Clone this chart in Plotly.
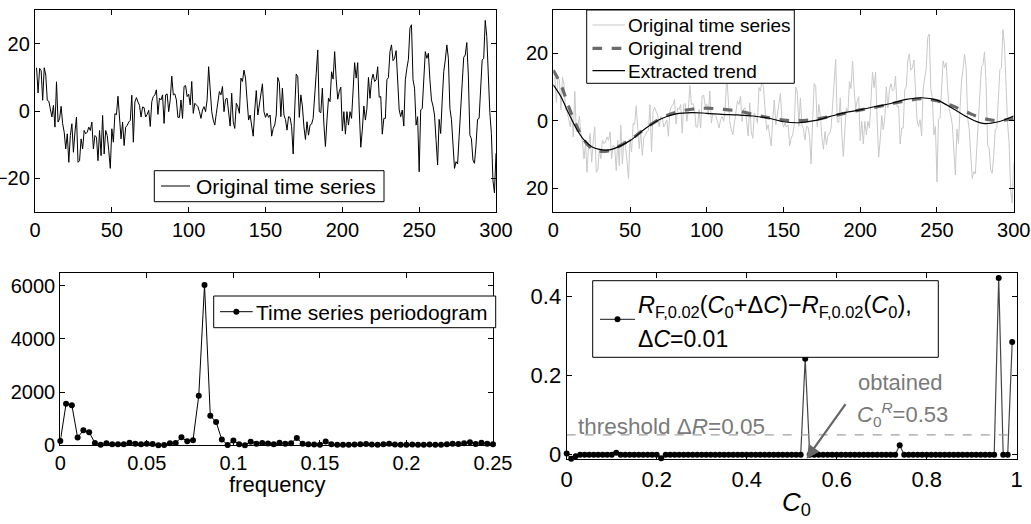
import plotly.graph_objects as go

W, H = 1031, 524

# ---------------- data ----------------
series = [
    12.9, 5.4, 12.7, 12.0, 3.2, 12.9, 10.7, 3.2, 2.9, 1.0,
    -1.8, 1.7, -4.8, 8.7, -3.3, -2.3, 1.4, -3.8, -6.3, -11.3,
    -6.8, -15.3, -7.3, -3.8, -12.3, -6.3, -1.8, -15.3, -14.8, -8.3,
    -11.3, -5.8, -6.8, -6.3, -4.8, -5.8, -3.3, -11.3, -7.3, -7.8,
    -14.8, -5.8, -13.3, -1.3, -12.8, -5.8, -7.3, -11.8, -17.1, -5.3,
    -9.3, -0.8, -1.1, 4.4, -1.8, -8.3, -3.3, -10.3, -4.8, -4.3,
    -3.3, -2.8, 4.7, -9.3, 2.7, 4.0, 2.7, 1.7, -1.8, 1.2,
    1.0, -1.8, -1.0, 0.2, -4.6,
    2.8, 4.3, 4.8, 6.3, -1.0, 3.8, 3.3, 4.8, -3.7, 4.8,
    5.1, -0.2, 3.3, 10.4, 4.8, 5.1, 3.3, -1.9, -1.9, 3.3,
    -2.2, 7.3, 7.6, 4.3, 5.0, 1.8, 8.8, -0.7, 2.3, 1.8,
    1.3, -0.2, -2.2, 0.3, 1.3, -0.2, 3.3, 13.2, 6.3, -0.2,
    -2.7, -4.2, -0.7, 2.8, 5.8, 4.8, 7.3, -0.2, 3.5, 3.8,
    0.3, -4.5, 5.3, -3.2, -5.2, 2.3, 1.3, -0.7, 9.8, 8.8,
    12.2, 9.8, 3.3, -2.7, -1.2, -4.7,
    -7.5, 0.3, 6.1, -1.2, 1.5, 5.1, 8.1, -0.2, -1.9, -0.7,
    -1.9, -1.2, -7.5, -5.2, -4.2, -1.2, 10.0, 8.5, -1.7, 6.8,
    -1.2, -2.5, -5.7, -1.7, -1.9, -4.7, -12.8, 0.3, 11.0, 10.2,
    -1.9, 4.8, 1.5, -4.7, -8.5, -3.2, -7.2, -4.2, -3.9, -2.2,
    3.3, 11.2, 18.2, -0.2, -0.5, 6.8, -3.9, -10.6, -2.7, 3.8,
    2.8, 11.7, 9.5, 17.7, 9.5, 3.5, 5.8, 7.1, -5.9, -0.2,
    -6.9, -0.2, -4.2, -0.2, -2.2, 6.1, 14.4, 9.8, 14.4, 0.3,
    -10.8, -5.7, 1.5, -2.7, 0.8, 10.0, 3.8, 9.1, 11.0, 8.8,
    9.3, 13.2, 4.1, 4.3, -6.9, -2.2, -2.2, 9.3, 10.0, 17.7,
    19.7, 15.0, 15.7, 18.0, 8.8, 0.3, -1.7, 0.3, -4.5, 9.3,
    12.7, 15.4, 24.7, 25.7, 9.3, 6.8, -4.2, -1.7, -18.1, 0.3,
    0.8, 7.8, 17.7, 15.7, 17.2, 9.3, 3.3, 1.5, -1.2, -8.7,
    -16.1, -2.5, -6.7, 3.3, 11.7, 15.2, 19.7, 15.7, 0.8, -2.5,
    -9.2, -17.1, -15.1, -15.8, -7.7, 2.3, 8.3, 16.0, 16.7, 20.4,
    10.7, -7.2, -8.2, -14.6, -15.6, -10.1, -2.5, -2.2, 7.8, 15.2,
    15.7, 27.0, 22.2, 7.8, -0.5, -6.7, -20.6, -24.4, -12.6,
]
time_idx = list(range(1, len(series) + 1))

trend_t = [0, 5, 10, 15, 20, 25, 30, 35, 40, 50, 60, 70, 80, 90, 100, 110,
           120, 130, 140, 150, 160, 170, 180, 190, 200, 210, 220, 230, 240,
           250, 260, 270, 280, 290, 300]
original_trend = [14.9, 10.6, 4.2, -1.3, -5.7, -8.2, -9.0, -9.0, -8.2, -5.7,
                  -2.3, 0.7, 2.5, 3.4, 3.7, 3.4, 2.9, 1.9, 0.9, 0.2, 0.0, 0.4,
                  1.2, 2.2, 3.2, 4.0, 5.0, 5.9, 6.5, 5.9, 4.4, 2.4, 0.7, 0.0, 0.7]
extracted_trend = [10.6, 7.1, 2.2, -2.3, -5.7, -7.7, -8.5, -8.7, -8.2, -5.9,
                   -2.3, 0.5, 2.0, 2.4, 2.2, 1.9, 1.7, 1.4, 0.8, -0.3, -0.6, 0.0,
                   1.2, 2.4, 3.2, 4.2, 5.1, 6.3, 6.8, 6.1, 3.7, 1.0, -0.8, -0.3, 1.4]

freq = [k / 300 for k in range(76)]
periodogram = [
    164, 1560, 1510, 290, 566, 490, 88, 25, 75, 38,
    38, 38, 100, 60, 40, 55, 45, 5, 10, 75,
    88, 300, 150, 190, 1860, 6025, 1107, 880, 214, 13,
    176, 38, 5, 138, 60, 90, 70, 40, 100, 60,
    80, 270, 60, 40, 30, 20, 140, 40, 20, 25,
    20, 30, 40, 50, 30, 20, 40, 60, 30, 20,
    25, 30, 20, 25, 30, 20, 25, 40, 60, 50,
    80, 110, 50, 100, 60, 40,
]

c0_values = [i / 100 for i in range(100)]
delta_R = [0.0] * 100
delta_R[0] = 0.003
delta_R[1] = -0.010
delta_R[2] = -0.004
delta_R[11] = 0.005
delta_R[21] = -0.009
delta_R[53] = 0.243
delta_R[74] = 0.024
delta_R[96] = 0.447
delta_R[99] = 0.285
threshold = 0.05
obtained_c0 = 0.53

# legend labels
lbl_series = "Original time series"
lbl_trend = "Original trend"
lbl_extr = "Extracted trend"
lbl_pgram = "Time series periodogram"
lbl_diff_1 = ("<i>R</i><sub>F,0.02</sub>(<i>C</i><sub>0</sub>+Δ<i>C</i>)"
              "−<i>R</i><sub>F,0.02</sub>(<i>C</i><sub>0</sub>),")
lbl_diff_2 = "Δ<i>C</i>=0.01"

# ---------------- figure ----------------
FONT = "Liberation Sans, Arial, Helvetica, sans-serif"


def dom_x(a, b):
    return [a / W, b / W]


def dom_y(top, bottom):
    return [1 - bottom / H, 1 - top / H]


def PX(p):
    return p / W


def PY(p):
    return 1 - p / H


def axis(**kw):
    d = dict(showline=True, linecolor="black", linewidth=1.3, mirror="ticks",
             ticks="inside", ticklen=5, tickcolor="black", tickwidth=1,
             showgrid=False, zeroline=False, automargin=False,
             tickfont=dict(size=20, color="black", family=FONT))
    d.update(kw)
    return d


fig = go.Figure()

fig.add_trace(go.Scatter(x=time_idx, y=series, mode="lines",
                         line=dict(color="black", width=1),
                         name=lbl_series, xaxis="x", yaxis="y"))
fig.add_trace(go.Scatter(x=time_idx, y=series, mode="lines",
                         line=dict(color="#c8c8c8", width=1),
                         name=lbl_series, xaxis="x2", yaxis="y2"))
fig.add_trace(go.Scatter(x=trend_t, y=original_trend, mode="lines",
                         line=dict(color="#6a6a6a", width=3.2, dash="dash",
                                   shape="spline", smoothing=1.0),
                         name=lbl_trend, xaxis="x2", yaxis="y2"))
fig.add_trace(go.Scatter(x=trend_t, y=extracted_trend, mode="lines",
                         line=dict(color="black", width=1.2,
                                   shape="spline", smoothing=1.0),
                         name=lbl_extr, xaxis="x2", yaxis="y2"))
fig.add_trace(go.Scatter(x=freq, y=periodogram, mode="lines+markers",
                         line=dict(color="black", width=1),
                         marker=dict(color="black", size=6),
                         cliponaxis=False, name=lbl_pgram,
                         xaxis="x3", yaxis="y3"))
fig.add_trace(go.Scatter(x=c0_values, y=delta_R, mode="lines+markers",
                         line=dict(color="#444444", width=1.2),
                         marker=dict(color="black", size=6),
                         cliponaxis=False, name="dR",
                         xaxis="x4", yaxis="y4"))

fig.update_layout(
    width=W, height=H,
    margin=dict(l=0, r=0, t=0, b=0),
    paper_bgcolor="white", plot_bgcolor="white",
    font=dict(family=FONT, color="black", size=20),
    showlegend=False,
    xaxis=axis(domain=dom_x(35, 496), range=[0, 300], anchor="y",
               tickvals=[0, 50, 100, 150, 200, 250, 300]),
    yaxis=axis(domain=dom_y(10, 212), range=[-30.1, 30.1], anchor="x",
               tickvals=[-20, 0, 20]),
    xaxis2=axis(domain=dom_x(553.3, 1013.7), range=[0, 300], anchor="y2",
                tickvals=[0, 50, 100, 150, 200, 250, 300]),
    yaxis2=axis(domain=dom_y(10, 212), range=[-27.05, 32.8], anchor="x2",
                tickvals=[-20, 0, 20], ticktext=["20", "0", "20"]),
    xaxis3=axis(domain=dom_x(60.3, 493), range=[0, 0.25], anchor="y3",
                tickvals=[0, 0.05, 0.1, 0.15, 0.2, 0.25],
                ticktext=["0", "0.05", "0.1", "0.15", "0.2", "0.25"]),
    yaxis3=axis(domain=dom_y(273.3, 445.3), range=[0, 6466], anchor="x3",
                tickvals=[0, 2000, 4000, 6000]),
    xaxis4=axis(domain=dom_x(566.7, 1016.7), range=[0, 1], anchor="y4",
                tickvals=[0, 0.2, 0.4, 0.6, 0.8, 1],
                tickfont=dict(size=22, color="black", family=FONT)),
    yaxis4=axis(domain=dom_y(273.3, 459.3), range=[-0.0116, 0.459], anchor="x4",
                tickvals=[0, 0.2, 0.4],
                tickfont=dict(size=22, color="black", family=FONT)),
)

# axis titles (as paper annotations for exact placement)
fig.add_annotation(xref="paper", yref="paper", x=PX(277), y=PY(484),
                   text="frequency", showarrow=False, xanchor="center",
                   yanchor="middle", font=dict(size=22, family=FONT, color="black"))
fig.add_annotation(xref="paper", yref="paper", x=PX(796), y=PY(503),
                   text="<i>C</i><sub>0</sub>", showarrow=False, xanchor="center",
                   yanchor="middle", font=dict(size=26, family=FONT, color="black"))


# ---------- hand-drawn legends ----------
def box(x0, y0, x1, y1):
    fig.add_shape(type="rect", xref="paper", yref="paper",
                  x0=PX(x0), x1=PX(x1), y0=PY(y1), y1=PY(y0),
                  fillcolor="white", line=dict(color="black", width=1),
                  layer="above")


def sample(x0, x1, y, color, width, dash="solid", marker=False):
    fig.add_shape(type="line", xref="paper", yref="paper",
                  x0=PX(x0), x1=PX(x1), y0=PY(y), y1=PY(y),
                  line=dict(color=color, width=width, dash=dash), layer="above")
    if marker:
        xm = (x0 + x1) / 2
        r = 3.0
        fig.add_shape(type="circle", xref="paper", yref="paper",
                      x0=PX(xm - r), x1=PX(xm + r), y0=PY(y + r), y1=PY(y - r),
                      fillcolor="black", line=dict(color="black", width=0),
                      layer="above")


def label(x, y, text, size, color="black"):
    fig.add_annotation(xref="paper", yref="paper", x=PX(x), y=PY(y), text=text,
                       showarrow=False, xanchor="left", yanchor="middle",
                       font=dict(size=size, family=FONT, color=color))


# top-left
box(154.3, 170.7, 384, 201.7)
sample(161, 190, 186, "black", 1)
label(194, 186.5, lbl_series, 21)

# top-right
box(586.7, 10, 794.3, 83.3)
sample(592.5, 625, 25, "#c8c8c8", 1.2)
label(626, 25.5, lbl_series, 19)
sample(592.5, 625, 48.3, "#6a6a6a", 3.2, dash="dash")
label(626, 48.8, lbl_trend, 19)
sample(592.5, 625, 70.7, "black", 1.2)
label(626, 71.2, lbl_extr, 19)

# bottom-left
box(213.7, 296, 495.7, 327.7)
sample(220, 252.7, 311.7, "black", 1, marker=True)
label(253.5, 312, lbl_pgram, 21)

# bottom-right
box(592.7, 280.7, 938.3, 357.3)
sample(600, 635, 319.3, "#444444", 1.2, marker=True)
label(636, 306, lbl_diff_1, 23.5)
label(636, 339, lbl_diff_2, 23)

# threshold line and annotations
fig.add_shape(type="line", xref="x4", yref="y4", x0=0, x1=1,
              y0=threshold, y1=threshold,
              line=dict(color="#a0a0a0", width=1.3, dash="dash"))

gray = "#7a7a7a"
fig.add_annotation(xref="x4", yref="y4", x=0.021, y=0.072, xanchor="left",
                   yanchor="middle", showarrow=False,
                   text="threshold Δ<i>R</i>=0.05",
                   font=dict(size=22.5, color=gray, family=FONT))
fig.add_annotation(xref="x4", yref="y4", x=0.740, y=0.183, xanchor="center",
                   yanchor="middle", showarrow=False, text="obtained",
                   font=dict(size=22, color=gray, family=FONT))
fig.add_annotation(xref="x4", yref="y4", x=0.641, y=0.103, xanchor="left",
                   yanchor="middle", showarrow=False,
                   text="<i>C</i><sub>0</sub><sup><i>R</i></sup>=%.2f" % obtained_c0,
                   font=dict(size=22, color=gray, family=FONT))
fig.add_annotation(xref="x4", yref="y4", axref="x4", ayref="y4",
                   x=obtained_c0 + 0.003, y=-0.010, ax=0.622, ay=0.132,
                   text="", showarrow=True, arrowhead=2, arrowsize=1.2,
                   arrowwidth=2.2, arrowcolor="#666666")

fig.write_html("out.html",
               config={"displayModeBar": False},
               post_script="document.body.style.margin='0';"
                           "document.body.style.padding='0';"
                           "document.body.style.overflow='hidden';")
